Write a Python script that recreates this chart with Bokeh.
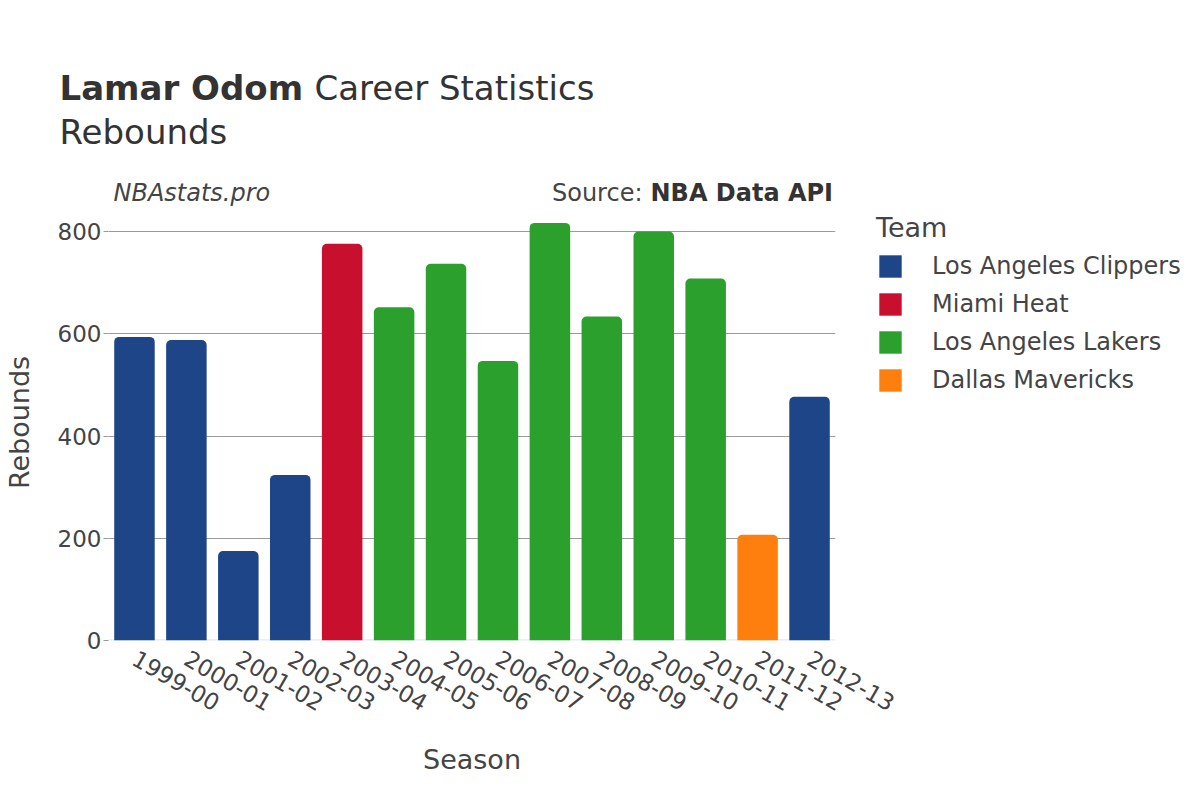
import math
from bokeh.plotting import figure
from bokeh.models import ColumnDataSource, FactorRange, Range1d, Label, Span, Legend, LegendItem
from bokeh.transform import factor_cmap
from bokeh.embed import file_html
from bokeh.resources import INLINE

seasons = ["1999-00", "2000-01", "2001-02", "2002-03", "2003-04", "2004-05", "2005-06",
           "2006-07", "2007-08", "2008-09", "2009-10", "2010-11", "2011-12", "2012-13"]
rebounds = [594, 588, 175, 324, 776, 652, 737, 547, 817, 634, 800, 708, 207, 477]
teams = ["Los Angeles Clippers", "Los Angeles Clippers", "Los Angeles Clippers", "Los Angeles Clippers",
         "Miami Heat", "Los Angeles Lakers", "Los Angeles Lakers", "Los Angeles Lakers",
         "Los Angeles Lakers", "Los Angeles Lakers", "Los Angeles Lakers", "Los Angeles Lakers",
         "Dallas Mavericks", "Los Angeles Clippers"]
team_names = ["Los Angeles Clippers", "Miami Heat", "Los Angeles Lakers", "Dallas Mavericks"]
team_colors = ["#1f4589", "#c8102e", "#2ca02c", "#ff7f0e"]
y_ticks = [0, 200, 400, 600, 800]

FONT = "DejaVu Sans"
TXT = "#444444"
DARK = "#333333"

source = ColumnDataSource(dict(season=seasons, reb=rebounds, team=teams))

p = figure(frame_width=727, frame_height=436, x_range=FactorRange(*seasons, range_padding=0),
           y_range=Range1d(0, 853), output_backend="svg", toolbar_location=None,
           min_border_left=100, min_border_right=0, min_border_top=201, min_border_bottom=144)
p.outline_line_color = None

bars = p.vbar(x="season", top="reb", width=0.78, source=source, bottom=0,
              fill_color=factor_cmap("team", palette=team_colors, factors=team_names),
              line_color=None, border_radius=(5, 5, 0, 0))

p.add_layout(Span(location=0, dimension="width", line_color="#e6eaf1", line_width=2.5,
                  level="underlay"))

p.yaxis.ticker = y_ticks
p.yaxis.axis_line_color = None
p.yaxis.major_tick_out = 5
p.yaxis.major_tick_in = 0
p.yaxis.major_tick_line_color = "#999999"
p.yaxis.minor_tick_line_color = None
p.yaxis.major_label_standoff = 2
p.yaxis.major_label_text_font = FONT
p.yaxis.major_label_text_font_size = "23px"
p.yaxis.major_label_text_color = TXT
p.yaxis.axis_label = "Rebounds"
p.yaxis.axis_label_text_font = FONT
p.yaxis.axis_label_text_font_size = "27px"
p.yaxis.axis_label_text_font_style = "normal"
p.yaxis.axis_label_text_color = TXT
p.yaxis.axis_label_standoff = 20

p.xaxis.axis_line_color = None
p.xaxis.major_tick_line_color = None
p.xaxis.minor_tick_line_color = None
p.xaxis.major_label_orientation = -math.pi / 6
p.xaxis.major_label_text_font = FONT
p.xaxis.major_label_text_font_size = "23px"
p.xaxis.major_label_text_color = TXT
p.xaxis.major_label_standoff = 10
p.xaxis.axis_label = "Season"
p.xaxis.axis_label_text_font = FONT
p.xaxis.axis_label_text_font_size = "27px"
p.xaxis.axis_label_text_font_style = "normal"
p.xaxis.axis_label_text_color = TXT
p.xaxis.axis_label_standoff = 22

p.xgrid.grid_line_color = None
p.ygrid.grid_line_color = "#9a9a9a"
p.ygrid.grid_line_width = 1


# header texts, in the panel above the frame (each label gets its own stacked slot)
def lab(text, x, y, size, style="normal", align="left", color=DARK):
    p.add_layout(Label(x=x, y=y, x_units="screen", y_units="screen", text=text,
                       text_font=FONT, text_font_size=size, text_font_style=style,
                       text_color=color, text_align=align, text_baseline="alphabetic"), "above")


lab("Lamar Odom", -49, 117, "34px", "bold")
lab("Career Statistics", 206, 77, "34px")
lab("Rebounds", -49, -7, "34px")
lab("NBAstats.pro", 5, -108, "24px", "italic", color=TXT)
lab("Source:", 534, -136, "24px", align="right", color=TXT)
lab("NBA Data API", 542, -164, "24px", "bold", color=DARK)

items = [LegendItem(label=name, renderers=[bars], index=teams.index(name)) for name in team_names]
leg = Legend(items=items, location=(41, 246), margin=0, padding=0,
             border_line_color=None, background_fill_alpha=0,
             title="Team", title_text_font=FONT, title_text_font_size="27px",
             title_text_font_style="normal", title_text_color=TXT, title_standoff=9,
             glyph_width=28, glyph_height=28, label_height=28, spacing=10, label_standoff=28,
             label_text_font=FONT, label_text_font_size="24px", label_text_color=TXT)
p.add_layout(leg, "right")

open("out.html", "w").write(file_html(p, INLINE))
